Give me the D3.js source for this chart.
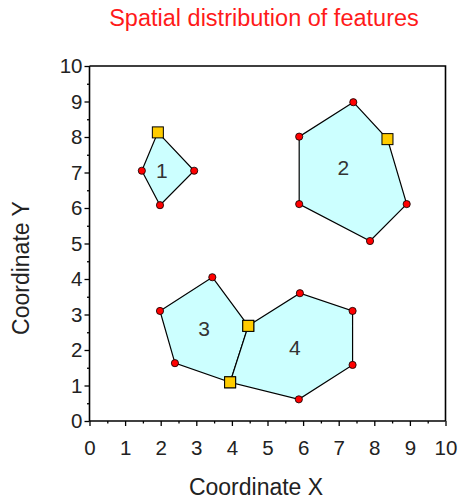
<!DOCTYPE html>
<html><head><meta charset="utf-8">
<script src="https://cdn.jsdelivr.net/npm/d3@7"></script>
<style>body{margin:0;background:#fff}svg{display:block}text{font-family:"Liberation Sans",Arial,sans-serif}</style>
</head><body><svg id="c" width="458" height="500"></svg>
<script>
const title = "Spatial distribution of features";
const xTitle = "Coordinate X";
const yTitle = "Coordinate Y";
const tickValues = [0,1,2,3,4,5,6,7,8,9,10];
const featureIds = ["1","2","3","4"];
// polygon vertices per feature [x,y,type] type: "c" circle, "s" square
const feature1 = [[1.92,8.13,"s"],[2.94,7.05,"c"],[1.98,6.08,"c"],[1.47,7.05,"c"]];
const feature2 = [[7.41,8.98,"c"],[8.37,7.94,"s"],[8.91,6.11,"c"],[7.88,5.07,"c"],[5.89,6.11,"c"],[5.89,8.01,"c"]];
const feature3 = [[3.45,4.05,"c"],[4.46,2.68,"s"],[3.95,1.09,"s"],[2.40,1.63,"c"],[1.98,3.10,"c"]];
const feature4 = [[4.46,2.68,"s"],[5.91,3.60,"c"],[7.39,3.10,"c"],[7.39,1.58,"c"],[5.88,0.61,"c"],[3.95,1.09,"s"]];
const labelPos = [[2.03,7.05],[7.13,7.15],[3.22,2.6],[5.77,2.08]];
const features = [feature1,feature2,feature3,feature4];

const svg = d3.select("#c");
const L=89.5, R=445.5, T=66, B=421;
const x = d3.scaleLinear().domain([0,10]).range([L,R]);
const y = d3.scaleLinear().domain([0,10]).range([B,T]);

svg.append("text").attr("x",264).attr("y",26).attr("text-anchor","middle")
  .attr("fill","#ff1a1a").style("font-size","23.5px").text(title);

// polygons
const g = svg.append("g");
features.forEach((f,i)=>{
  g.append("path").attr("d", d3.line().x(d=>x(d[0])).y(d=>y(d[1])).curve(d3.curveLinearClosed)(f))
   .attr("fill","#ccffff").attr("stroke","#000").attr("stroke-width",1.2);
});
features.forEach((f,i)=>{
  g.append("text").attr("x",x(labelPos[i][0])).attr("y",y(labelPos[i][1])+7.5)
   .attr("text-anchor","middle").attr("fill","#333").style("font-size","21px").text(featureIds[i]);
});
const allPts = features.flat();
g.selectAll("circle.pt").data(allPts.filter(d=>d[2]==="c")).enter().append("circle")
  .attr("cx",d=>x(d[0])).attr("cy",d=>y(d[1])).attr("r",3.6)
  .attr("fill","#ff0000").attr("stroke","#000").attr("stroke-width",0.8);
g.selectAll("rect.pt").data(allPts.filter(d=>d[2]==="s")).enter().append("rect")
  .attr("x",d=>x(d[0])-5.5).attr("y",d=>y(d[1])-5.5).attr("width",11).attr("height",11)
  .attr("fill","#ffcc00").attr("stroke","#000").attr("stroke-width",1);

// frame top/right
svg.append("path").attr("d",`M${L},${T}H${R}V${B}`).attr("fill","none").attr("stroke","#000").attr("stroke-width",1.6);

const minor = d3.range(0.5,10,1);
const xAxis = svg.append("g").attr("transform",`translate(0,${B})`)
  .call(d3.axisBottom(x).tickValues(tickValues).tickSize(5).tickPadding(14).tickFormat(d3.format("d")));
svg.append("g").attr("transform",`translate(0,${B})`).call(d3.axisBottom(x).tickValues(minor).tickSize(2.5).tickFormat(""))
  .call(a=>a.select(".domain").remove());
const yAxis = svg.append("g").attr("transform",`translate(${L},0)`)
  .call(d3.axisLeft(y).tickValues(tickValues).tickSize(5).tickPadding(2).tickFormat(d3.format("d")));
svg.append("g").attr("transform",`translate(${L},0)`).call(d3.axisLeft(y).tickValues(minor).tickSize(2.5).tickFormat(""))
  .call(a=>a.select(".domain").remove());
svg.selectAll(".domain").attr("stroke-width",1.6);
xAxis.select(".domain").attr("d",`M${L},0H${R}`);
yAxis.select(".domain").attr("d",`M0,${B}V${T}`);
svg.selectAll(".tick line").attr("stroke","#000").attr("stroke-width",1.3);
svg.selectAll(".tick text").style("font-size","20.5px").attr("fill","#222").style("font-family","'Liberation Sans',Arial,sans-serif");

svg.append("text").attr("x",256).attr("y",495).attr("text-anchor","middle").attr("fill","#222")
  .style("font-size","23px").text(xTitle);
svg.append("text").attr("transform","translate(29,268) rotate(-90)").attr("text-anchor","middle").attr("fill","#222")
  .style("font-size","23px").text(yTitle);
</script></body></html>
